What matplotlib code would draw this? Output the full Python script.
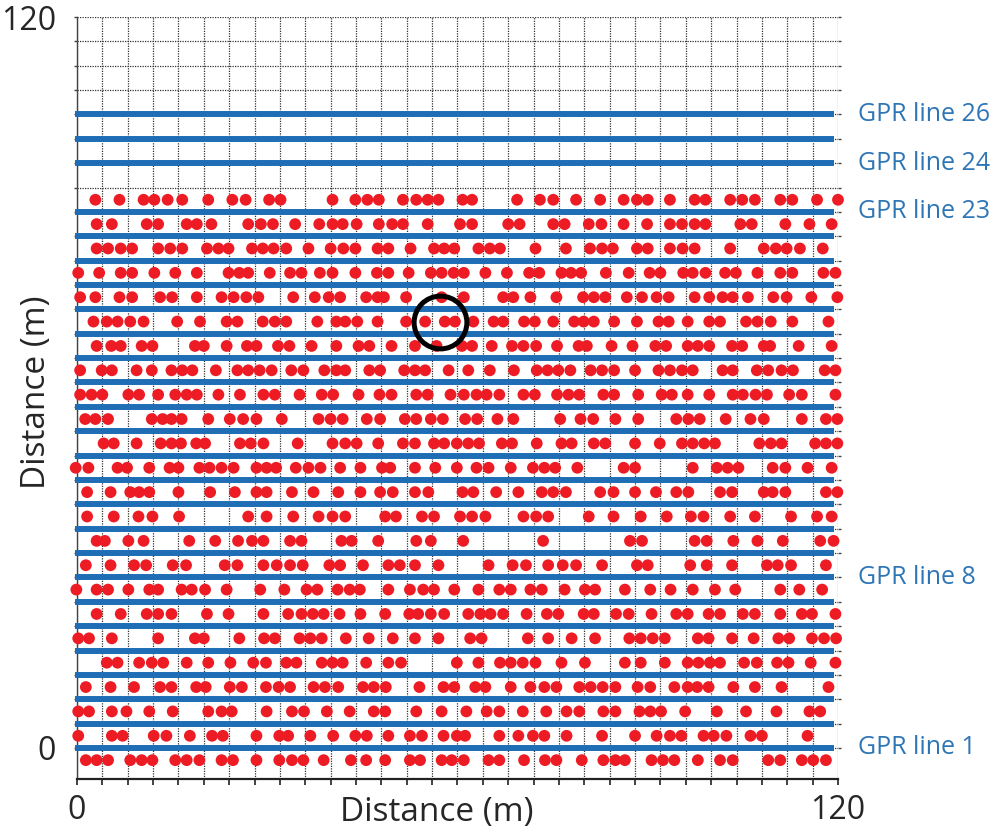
import numpy as np
import matplotlib.pyplot as plt

# GPR survey lines (y position in m) and the labelled ones
line_y = [0, 4, 8, 12, 16, 20, 24, 28, 32, 36, 40, 44, 48, 52, 56, 60, 64, 68,
          72, 76, 80, 84, 88, 96, 100, 104]
label_lines = [26, 24, 23, 8, 1]

# red dots, one list of x positions (m) per row
row_y = [90, 86, 82, 78, 74, 70, 66, 62, 58, 54, 50, 46, 42, 38, 34, 30, 26, 22,
         18, 14, 10, 6, 2, -2]
row_90 = [2.9, 6.7, 10.5, 12.2, 14.3, 16.6, 20.7, 24.5, 26.6, 30.3, 32.1, 40.3, 43.9, 45.8, 47.6, 51.4,
          53.5, 55.3, 57.0, 60.8, 62.3, 69.4, 73.0, 75.1, 78.7, 82.5, 86.2, 88.3, 90.0, 93.5, 97.4, 99.1,
          103.0, 104.9, 106.9, 110.9, 112.8, 116.7, 120.0]
row_86 = [3.1, 5.5, 11.0, 12.8, 17.3, 18.9, 21.2, 27.0, 29.0, 30.9, 34.4, 38.2, 40.3, 41.9, 44.1, 47.6,
          49.7, 51.4, 55.3, 60.4, 62.3, 68.0, 69.8, 75.1, 76.9, 80.7, 82.7, 86.2, 89.9, 93.5, 95.4, 97.4,
          99.1, 104.6, 106.4, 111.7, 115.5, 119.0]
row_82 = [3.1, 4.9, 6.9, 8.7, 12.8, 14.7, 16.6, 20.5, 22.3, 23.9, 27.6, 29.3, 31.0, 33.0, 36.5, 40.0,
          42.0, 43.9, 47.4, 49.1, 52.6, 56.3, 57.9, 59.5, 63.3, 65.1, 66.7, 72.3, 77.1, 80.9, 82.8, 84.5,
          88.3, 90.0, 93.5, 95.5, 97.4, 103.0, 108.3, 110.2, 111.9, 114.0, 117.6]
row_78 = [0.2, 3.5, 6.9, 8.7, 12.2, 15.5, 18.9, 23.9, 25.6, 27.0, 30.4, 33.6, 35.4, 38.3, 40.3, 43.9,
          47.3, 49.1, 52.3, 55.8, 57.5, 59.4, 61.0, 64.4, 67.8, 71.3, 72.9, 76.4, 77.9, 79.5, 83.4, 87.0,
          90.3, 92.0, 95.6, 97.1, 99.1, 102.2, 103.9, 107.3, 110.9, 112.8, 117.7, 119.6]
row_74 = [0.5, 2.9, 6.7, 8.7, 13.1, 15.0, 18.9, 22.8, 24.7, 26.7, 28.6, 34.1, 37.5, 39.7, 41.5, 45.6,
          47.4, 48.4, 51.9, 57.5, 61.0, 67.2, 68.8, 71.5, 75.6, 79.8, 81.5, 83.3, 86.7, 89.1, 91.4, 93.3,
          97.4, 99.7, 101.8, 103.4, 105.8, 109.8, 111.9, 115.8, 119.9]
row_70 = [2.6, 4.7, 6.4, 8.4, 10.5, 15.8, 19.4, 23.6, 25.3, 29.3, 31.2, 33.0, 37.9, 40.9, 42.3, 44.2,
          47.4, 51.9, 54.9, 58.0, 59.6, 62.5, 65.7, 67.2, 70.5, 72.2, 75.1, 78.4, 79.9, 81.5, 84.7, 88.3,
          91.7, 93.3, 96.3, 99.7, 101.4, 105.5, 107.3, 109.4, 112.8, 118.5]
row_66 = [3.1, 5.4, 6.9, 10.2, 11.9, 18.6, 20.0, 23.6, 26.8, 28.3, 31.7, 33.5, 37.0, 40.9, 44.4, 46.1,
          49.6, 53.3, 56.7, 60.7, 62.3, 65.4, 68.6, 70.4, 72.4, 75.7, 79.1, 80.4, 84.3, 87.6, 91.2, 92.9,
          96.3, 97.9, 99.7, 103.3, 104.9, 108.3, 109.3, 113.8, 119.0]
row_62 = [0.5, 3.9, 5.5, 9.4, 11.8, 14.9, 16.6, 18.2, 21.9, 25.3, 27.0, 28.8, 30.7, 33.8, 35.7, 39.0,
          40.9, 42.3, 46.1, 47.8, 51.6, 53.3, 54.9, 58.6, 61.7, 65.1, 68.9, 72.5, 74.2, 75.9, 77.8, 81.0,
          82.8, 84.7, 88.0, 91.7, 93.5, 95.4, 97.1, 101.8, 103.4, 107.2, 109.0, 111.1, 112.9, 117.9, 119.6]
row_58 = [0.5, 2.3, 4.0, 8.1, 9.8, 12.8, 15.5, 17.3, 18.9, 22.3, 25.7, 29.4, 31.2, 35.1, 38.6, 40.4,
          44.4, 47.7, 49.6, 53.5, 55.3, 58.9, 61.0, 63.0, 64.6, 66.6, 70.4, 72.2, 75.7, 77.5, 79.2, 83.0,
          84.7, 88.5, 92.2, 93.8, 96.3, 99.7, 103.4, 105.0, 107.0, 108.8, 112.3, 114.3, 119.6]
row_54 = [1.3, 2.9, 4.9, 11.8, 13.5, 14.9, 16.5, 20.7, 24.1, 26.2, 28.3, 32.3, 38.1, 40.0, 41.9, 45.7,
          47.8, 51.7, 53.5, 55.8, 57.7, 61.2, 63.1, 66.3, 68.8, 76.2, 79.4, 81.4, 84.9, 88.5, 94.5, 96.4,
          98.2, 102.3, 106.2, 108.3, 114.3, 118.1, 119.9]
row_50 = [4.2, 5.8, 9.4, 13.2, 14.9, 16.4, 18.8, 20.2, 25.7, 27.4, 29.4, 34.8, 40.3, 42.3, 44.1, 47.5,
          51.4, 53.3, 56.3, 57.9, 59.9, 61.7, 63.4, 67.0, 68.6, 72.5, 76.4, 78.0, 81.5, 83.3, 88.0, 91.9,
          95.4, 97.1, 98.9, 100.6, 107.6, 109.4, 111.1, 116.4, 118.1, 119.9]
row_46 = [-0.2, 1.8, 6.4, 7.9, 11.4, 14.6, 16.0, 19.3, 20.9, 22.8, 24.7, 28.3, 29.9, 31.4, 34.5, 36.5,
          38.4, 41.5, 44.7, 48.1, 49.4, 53.3, 56.5, 59.9, 63.0, 64.9, 68.4, 71.9, 73.7, 75.4, 78.9, 86.2,
          88.0, 97.1, 100.9, 102.6, 104.3, 109.7, 111.7, 115.2, 119.0]
row_42 = [1.6, 5.3, 8.4, 9.8, 11.4, 16.0, 21.0, 24.9, 28.3, 29.9, 33.9, 37.3, 41.2, 44.7, 47.8, 49.8,
          53.3, 55.4, 60.8, 62.5, 66.1, 69.6, 73.3, 75.1, 77.1, 82.5, 84.6, 88.0, 91.3, 94.5, 96.4, 101.4,
          103.3, 108.3, 109.7, 111.7, 118.1, 119.9]
row_38 = [1.6, 5.8, 9.7, 11.9, 16.1, 27.0, 29.9, 34.1, 38.1, 40.3, 42.3, 48.6, 50.3, 54.4, 56.3, 60.4,
          62.3, 64.4, 70.4, 72.4, 74.3, 80.7, 84.6, 88.9, 93.0, 96.8, 98.8, 103.0, 106.9, 112.6, 116.7, 119.0]
row_34 = [3.1, 4.4, 8.1, 10.5, 17.7, 21.8, 25.4, 27.6, 29.4, 33.6, 35.4, 41.7, 43.3, 47.5, 53.5, 55.8,
          60.9, 73.5, 87.2, 89.1, 97.4, 99.3, 103.5, 107.3, 111.3, 117.2, 119.3]
row_30 = [1.4, 5.3, 9.0, 10.9, 15.1, 17.2, 23.3, 25.3, 29.4, 31.5, 33.6, 35.6, 39.8, 41.5, 45.1, 49.1,
          50.9, 53.3, 57.0, 64.9, 68.7, 70.8, 74.3, 76.6, 78.7, 82.8, 88.3, 90.0, 96.7, 99.3, 103.3, 108.8,
          110.5, 112.6, 118.1]
row_26 = [-0.1, 3.1, 4.9, 8.1, 11.4, 12.8, 16.5, 18.1, 20.2, 23.6, 28.9, 32.7, 36.2, 37.9, 41.1, 43.0,
          44.6, 49.1, 52.5, 54.6, 56.3, 59.5, 63.3, 66.6, 68.4, 71.5, 73.3, 76.9, 80.1, 81.7, 86.4, 90.4,
          93.6, 97.1, 100.6, 103.8, 110.9, 113.9, 117.5]
row_22 = [3.1, 6.9, 11.0, 12.8, 14.9, 20.5, 23.9, 29.4, 33.3, 35.4, 37.2, 38.9, 41.4, 44.7, 48.6, 52.4,
          53.8, 55.8, 57.9, 61.7, 63.6, 65.2, 67.2, 70.9, 74.1, 75.9, 79.9, 81.5, 85.0, 87.0, 90.6, 94.5,
          96.3, 99.6, 101.4, 105.0, 106.9, 110.9, 114.3, 115.9, 119.6]
row_18 = [0.2, 1.9, 5.5, 12.8, 18.6, 20.0, 25.6, 29.5, 31.2, 35.1, 36.8, 38.6, 42.4, 46.0, 49.8, 53.3,
          57.0, 62.0, 63.8, 71.1, 74.3, 78.0, 81.7, 87.1, 88.9, 90.8, 92.7, 97.9, 99.6, 103.3, 106.7, 110.6,
          112.3, 115.9, 117.8, 119.7]
row_14 = [4.7, 6.4, 9.8, 11.8, 13.6, 17.3, 20.7, 24.2, 27.8, 29.8, 33.0, 34.6, 38.6, 40.3, 41.9, 45.6,
          49.1, 51.1, 59.9, 63.3, 66.7, 68.4, 70.3, 72.3, 76.4, 80.1, 86.4, 88.9, 92.7, 96.3, 98.0, 99.8,
          101.4, 105.2, 107.2, 110.4, 112.2, 115.7, 119.6]
row_10 = [1.4, 5.3, 9.0, 13.1, 14.9, 18.8, 20.3, 24.1, 26.0, 29.8, 31.8, 33.6, 37.3, 39.1, 41.2, 45.1,
          46.8, 48.7, 54.0, 57.8, 59.5, 62.8, 64.4, 68.4, 71.5, 73.7, 75.6, 79.2, 81.0, 82.9, 84.9, 88.4,
          90.4, 94.2, 96.3, 97.8, 99.6, 103.5, 106.9, 111.1, 118.5]
row_6 = [0.2, 1.9, 5.5, 7.8, 11.4, 15.1, 20.7, 22.8, 24.4, 29.9, 33.9, 35.8, 39.4, 43.0, 46.8, 48.6,
         53.5, 57.5, 61.4, 64.6, 66.6, 70.3, 74.0, 77.2, 79.2, 83.0, 84.9, 88.7, 90.4, 92.1, 95.9, 100.9,
         105.5, 110.3, 115.5, 117.2]
row_2 = [0.2, 5.5, 7.2, 12.1, 14.1, 17.8, 21.3, 23.0, 28.3, 31.9, 33.3, 36.8, 40.4, 43.9, 45.7, 49.1,
         52.5, 54.4, 57.8, 59.9, 61.2, 66.6, 69.6, 71.9, 73.7, 77.2, 82.8, 88.0, 91.4, 93.5, 95.3, 98.8,
         100.4, 102.4, 106.2, 108.0, 115.2]
row_m2 = [1.4, 3.1, 4.9, 8.4, 10.2, 11.9, 15.5, 17.3, 19.3, 22.8, 24.6, 28.3, 31.9, 33.9, 35.7, 38.9,
          43.2, 45.6, 48.6, 52.5, 54.1, 57.5, 59.1, 61.0, 64.9, 66.6, 70.5, 73.8, 75.6, 79.6, 83.0, 84.9,
          86.4, 90.6, 92.4, 94.2, 97.9, 101.4, 103.4, 109.0, 110.9, 114.3, 116.1, 118.1]
row_x = [row_90, row_86, row_82, row_78, row_74, row_70, row_66, row_62, row_58, row_54, row_50, row_46,
         row_42, row_38, row_34, row_30, row_26, row_22, row_18, row_14, row_10, row_6, row_2, row_m2]

# highlighted anomaly
circle_xy = (57.3, 70.0)

grid_step = 4
end_labels = {0: "0", 120: "120"}

plt.rcParams['font.family'] = ['Open Sans', 'DejaVu Sans']

fig = plt.figure(figsize=(9.97, 8.34), dpi=100)
ax = fig.add_axes([0.0772, 0.0659, 0.7633, 0.9137])

blue = "#1f6eb5"
red = "#ed1c24"
text_col = "#262626"

for y in line_y:
    ax.plot([-0.3, 119.4], [y, y], color=blue, lw=4.3, solid_capstyle="butt", zorder=3, clip_on=False)

for y, xs in zip(row_y, row_x):
    ax.scatter(xs, np.full(len(xs), y), s=72, color=red, edgecolors="none", zorder=4, clip_on=False)

ax.plot([circle_xy[0]], [circle_xy[1]], marker="o", ms=38, mfc="none", mec="black", mew=3.6,
        zorder=5, clip_on=False)

for n in label_lines:
    ax.text(123.2, line_y[n - 1], f"GPR line {n}", color="#2e75b6", fontsize=18,
            va="center", ha="left", clip_on=False)

ticks = np.arange(0, 121, grid_step)
ax.set_xticks(ticks, labels=[end_labels.get(int(t), "") for t in ticks])
ax.set_yticks(ticks, labels=[end_labels.get(int(t), "") for t in ticks])
ax.set_xlim(0, 120)
ax.set_ylim(-5.1, 120)
ax.grid(True, color="#333333", lw=0.9, linestyle=(0, (1, 1)), zorder=0)
ax.set_axisbelow(True)

ax.tick_params(axis="x", length=4, width=1.2, color="#222222", labelsize=23, pad=7,
               labelcolor=text_col)
ax.tick_params(axis="y", length=2, width=1, color="#444444", labelsize=23, pad=13,
               right=True, labelcolor=text_col)

for side in ["top", "right"]:
    ax.spines[side].set_visible(False)
ax.spines["bottom"].set_linewidth(1.6)
ax.spines["bottom"].set_color("#222222")
ax.spines["left"].set_linewidth(1.0)
ax.spines["left"].set_color("#444444")

fig.text(0.438, 0.026, "Distance (m)", fontsize=24, ha="center", va="center", color=text_col)
fig.text(0.037, 0.530, "Distance (m)", fontsize=24, ha="center", va="center", rotation=90,
         color=text_col)

fig.savefig("out.png", dpi=100)
